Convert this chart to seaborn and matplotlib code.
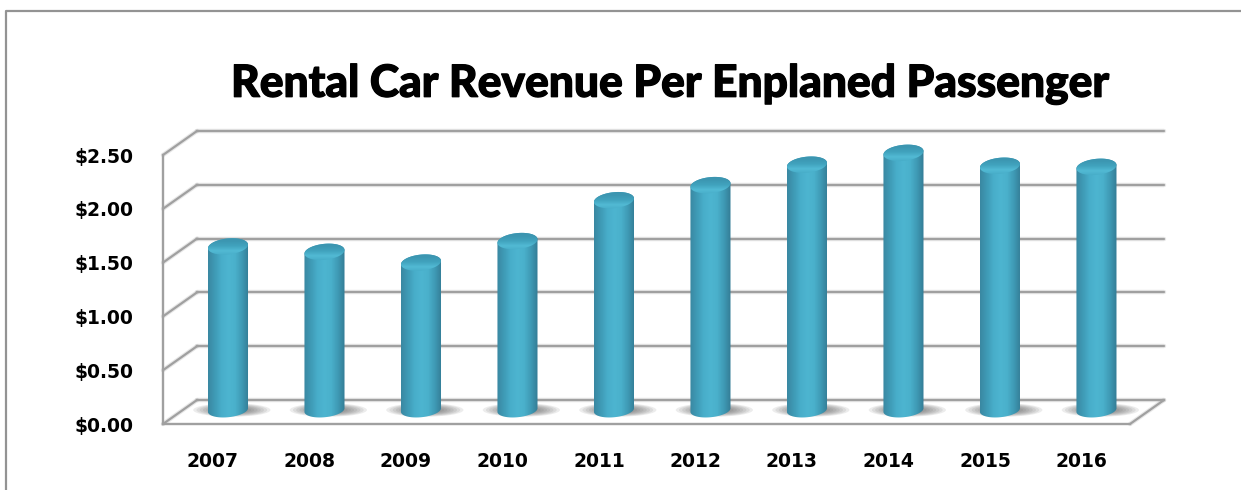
#!/usr/bin/env python
# -*- coding: utf-8 -*-
"""
Rental car revenue per enplaned passenger, pseudo 3D cylinder columns
"""
import numpy as np
import pandas as pd
import matplotlib
matplotlib.use("Agg")
import matplotlib.pyplot as plt
import matplotlib.patheffects as pe
import matplotlib.transforms as mtrans
from matplotlib.colors import LinearSegmentedColormap
from matplotlib.lines import Line2D
from matplotlib.patches import Ellipse, Polygon
import seaborn as sns

years = ["2007", "2008", "2009", "2010", "2011", "2012", "2013", "2014", "2015", "2016"]
revenue = [1.52, 1.47, 1.37, 1.57, 1.95, 2.09, 2.28, 2.39, 2.27, 2.26]
y_ticks = [0.0, 0.5, 1.0, 1.5, 2.0, 2.5]
y_labels = ["$0.00", "$0.50", "$1.00", "$1.50", "$2.00", "$2.50"]
title = "Rental Car Revenue Per Enplaned Passenger"

W, H = 1241, 490
GRID = "#a0a0a0"
PX_X, PX_Y = 96.5, 107.6

sns.set_theme(style="white")
plt.rcParams["font.family"] = ["DejaVu Sans"]
plt.rcParams["text.parse_math"] = False

fig = plt.figure(figsize=(W / 100, H / 100), dpi=100)
ax = fig.add_axes([163 / W, 1 - 424 / H, (1130 - 163) / W, (424 - 155) / H])
ax.patch.set_alpha(0)

df = pd.DataFrame({"year": years, "revenue": revenue})
sns.barplot(data=df, x="year", y="revenue", color="#4ab3ce", width=0.415, saturation=1, ax=ax)
ax.set_xlim(-0.518, 9.503)
ax.set_ylim(0, 2.5)
ax.set_xlabel("")
ax.set_ylabel("")
ax.set_yticks(y_ticks)
ax.set_yticklabels(y_labels, fontsize=13.5, fontweight="bold", color="black")
ax.tick_params(axis="x", length=0, pad=20, labelsize=13.5, colors="black")
ax.tick_params(axis="y", length=0, pad=21)
for t in ax.get_xticklabels():
    t.set_fontweight("bold")
sns.despine(ax=ax, top=True, right=True)
for s in ["left", "bottom"]:
    ax.spines[s].set_color(GRID)
    ax.spines[s].set_linewidth(1.7)


def shift(dx, dy):
    # pixel offset from the front plane of the fake 3D box
    return ax.transData + mtrans.ScaledTranslation(dx / 100, dy / 100, fig.dpi_scale_trans)


def gline(xs, ys, **kw):
    # grey line with a faint soft edge, the original is slightly blurred
    tr = kw.pop("transform", ax.transData)
    ax.add_line(Line2D(xs, ys, color=GRID, lw=3.2, alpha=0.25, transform=tr, clip_on=False, zorder=1))
    ax.add_line(Line2D(xs, ys, color=GRID, lw=1.6, transform=tr, clip_on=False, zorder=1.1))


def ell_pts(xc, yc, w, h, t0=0, t1=2 * np.pi, n=60):
    # ellipse in data units, tilted so the right side sits a bit higher
    t = np.linspace(t0, t1, n)
    xs = xc + w / 2 * np.cos(t)
    ys = yc + h / 2 * np.sin(t) + (xs - xc) * (PX_X / PX_Y) * 0.09
    return np.column_stack([xs, ys])


back = shift(34, 24)
mid = shift(15, 14)

x0, x1 = ax.get_xlim()
for v in y_ticks:
    gline([x0, x1], [v, v], transform=back)
    gline([x0, x0 + 34 / PX_X], [v, v + 24 / PX_Y])
gline([x1, x1 + 34 / PX_X], [0, 24 / PX_Y])

cyl = LinearSegmentedColormap.from_list(
    "cyl", ["#3a88a2", "#3f9bb6", "#48aeca", "#4db5d0", "#4ab0cb", "#3f9ab5", "#347d96"])
cap_cm = LinearSegmentedColormap.from_list(
    "cap", ["#3c93ad", "#3c97b2", "#41a3be", "#52bad4", "#46abc6"])
grad = np.linspace(0, 1, 64).reshape(1, -1)
grad_v = np.linspace(0, 1, 32).reshape(-1, 1)
bar_w = 0.415
cap_h = 14.5 / PX_Y
top_h = 16 / PX_Y

for bar in list(ax.patches):
    xc = bar.get_x() + bar.get_width() / 2
    val = bar.get_height()
    bar.set_visible(False)

    # floor shadow, stacked soft ellipses
    for f in np.linspace(1.0, 0.25, 10):
        ax.add_patch(Ellipse((xc + 0.04, 0.0), 0.8 * f, 0.125 * f, fc="#4a4a4a", ec="none",
                             alpha=0.1, transform=mid, zorder=2, clip_on=False))

    # body: shaded image clipped to the cylinder outline
    base = ell_pts(xc, 0, bar_w, cap_h, np.pi, 2 * np.pi)
    top = ell_pts(xc, val, bar_w, top_h, 0, np.pi)
    im = ax.imshow(grad, cmap=cyl, aspect="auto", zorder=3, transform=mid,
                   extent=(xc - bar_w / 2, xc + bar_w / 2, -0.1, val + 0.1))
    im.set_clip_box(fig.bbox)
    im.set_clip_path(Polygon(np.vstack([base, top]), transform=mid))

    # top cap: dark at the back, bright along the front rim
    cap = ax.imshow(grad_v, cmap=cap_cm, aspect="auto", zorder=4, transform=mid, origin="upper",
                    extent=(xc - bar_w / 2, xc + bar_w / 2, val - top_h * 0.6, val + top_h * 0.6))
    cap.set_clip_box(fig.bbox)
    cap.set_clip_path(Polygon(ell_pts(xc, val, bar_w, top_h), transform=mid))

ax.set_xlim(x0, x1)
ax.set_ylim(0, 2.5)

fig.text(669.5 / W, 1 - 84 / H, title, fontsize=31.9, fontweight=900, family=["Lato", "DejaVu Sans"],
         color="black", ha="center", va="center",
         path_effects=[pe.withStroke(linewidth=0.9, foreground="black")])

# outer chart border, open on the right and bottom
fig.add_artist(Line2D([6 / W, 6 / W, 1], [0, 1 - 11 / H, 1 - 11 / H], color="#939393", lw=1.6))

fig.savefig("out.png", dpi=100)
